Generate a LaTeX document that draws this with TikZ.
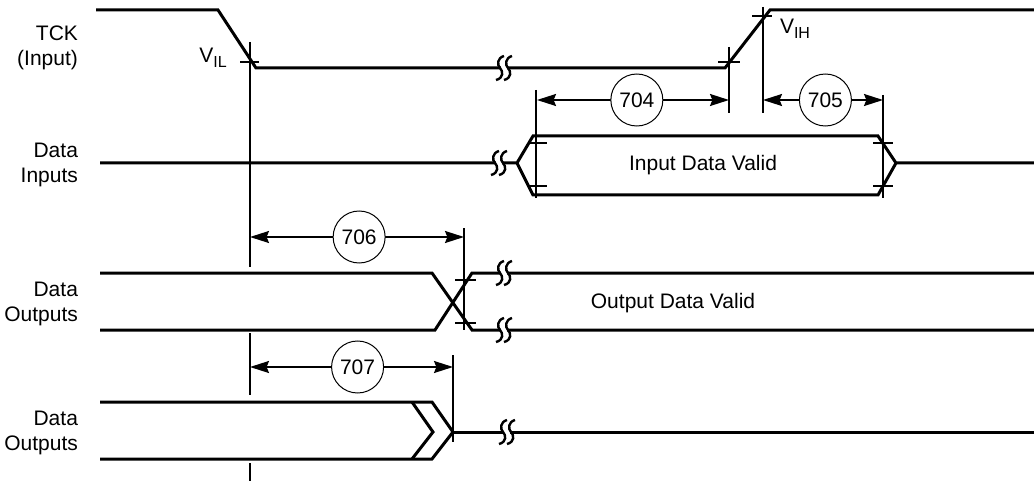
\documentclass[tikz,border=0pt]{standalone}
\usepackage{fontspec}
\setmainfont{Liberation Sans}
\usetikzlibrary{arrows.meta}
\def\squig(#1,#2){\draw[line width=1.2pt] (#1+4,#2-12) .. controls (#1-3,#2-10) and (#1-3,#2-3) .. (#1,#2) .. controls (#1+3,#2+3) and (#1+4,#2+10) .. (#1-4,#2+12);}
\def\brk(#1,#2){\fill[white] (#1+1,#2-3) rectangle (#1+7,#2+3); \squig(#1,#2) \squig(#1+8,#2)}
\def\sub#1{\raisebox{-0.45ex}{\fontsize{8}{9}\selectfont #1}}

\begin{document}
\begin{tikzpicture}[x=0.5pt,y=-0.5pt,
		sig/.style={line width=1.5pt},
		ext/.style={line width=1.1pt},
		dim/.style={line width=0.9pt,{Stealth[length=9.5pt,width=6pt,inset=1.2pt]}-{Stealth[length=9.5pt,width=6pt,inset=1.2pt]}},
		tag/.style={draw,circle,fill=white,line width=0.5pt,inner sep=0pt,minimum size=26pt,font=\fontsize{10.5}{12}\selectfont},
		lbl/.style={align=right,anchor=east,font=\fontsize{10.5}{12.5}\selectfont},
		txt/.style={font=\fontsize{10.5}{12}\selectfont}]
			%%%%% START %%%%%
			\useasboundingbox (0,0) rectangle (1034,481);
			
			% signal labels
			\node[lbl] (tck) at (85,48) {TCK\\(Input)};
			\node[lbl] (din) at (85,165) {Data\\Inputs};
			\node[lbl] (dout1) at (85,304) {Data\\Outputs};
			\node[lbl] (dout2) at (85,433) {Data\\Outputs};
			
			% TCK
			\draw[sig] (96,10) -- (218,10) -- (256,68) -- (725,68) -- (770,10) -- (1034,10);
			\brk(500,68)
			\node[txt] (vil) at (213,58) {V\sub{IL}};
			\node[txt] (vih) at (795,29) {V\sub{IH}};
			
			% data inputs
			\draw[sig] (100,163) -- (517,163) -- (533,136) -- (878,136) -- (896,163) -- (1034,163);
			\draw[sig] (517,163) -- (533,195) -- (878,195) -- (896,163);
			\brk(495,163)
			\node[txt] (inval) at (703,165) {Input Data Valid};
			
			% data outputs
			\draw[sig] (100,273) -- (432,273) -- (472,330) -- (1034,330);
			\draw[sig] (100,330) -- (435,330) -- (472,273) -- (1034,273);
			\brk(500,273)
			\brk(500,330)
			\node[txt] (outval) at (673,303) {Output Data Valid};
			
			\draw[sig] (100,402) -- (432,402) -- (453,432) -- (432,459) -- (100,459);
			\draw[sig] (412,402) -- (433,432) -- (412,459);
			\draw[sig] (453,432) -- (1034,432);
			\brk(503,432)
			
			% reference lines and ticks
			\draw[ext] (250,42) -- (250,267);
			\draw[ext] (250,333) -- (250,395);
			\draw[ext] (250,463) -- (250,481);
			\draw[ext] (729,47) -- (729,113);
			\draw[ext] (763,7) -- (763,113);
			\draw[ext] (536,90) -- (536,198);
			\draw[ext] (883,95) -- (883,198);
			\draw[ext] (464,228) -- (464,330);
			\draw[ext] (453,355) -- (453,442);
			
			\draw[ext] (240,62) -- (259,62);
			\draw[ext] (718,62) -- (740,62);
			\draw[ext] (752,16) -- (772,16);
			\draw[ext] (530,143) -- (547,143);
			\draw[ext] (530,186) -- (547,186);
			\draw[ext] (873,143) -- (893,143);
			\draw[ext] (873,186) -- (893,186);
			\draw[ext] (455,280) -- (476,280);
			\draw[ext] (455,323) -- (476,323);
			
			% timing parameters
			\draw[dim] (537,100) -- node[tag,pos=0.52] (t704) {704} (729,100);
			\draw[dim] (763,100) -- node[tag,pos=0.52] (t705) {705} (883,100);
			\draw[dim] (250,237) -- node[tag,pos=0.51] (t706) {706} (464,237);
			\draw[dim] (250,367) -- node[tag,pos=0.53] (t707) {707} (453,367);
			
			%%%%% END %%%%%
\end{tikzpicture}
\end{document}
